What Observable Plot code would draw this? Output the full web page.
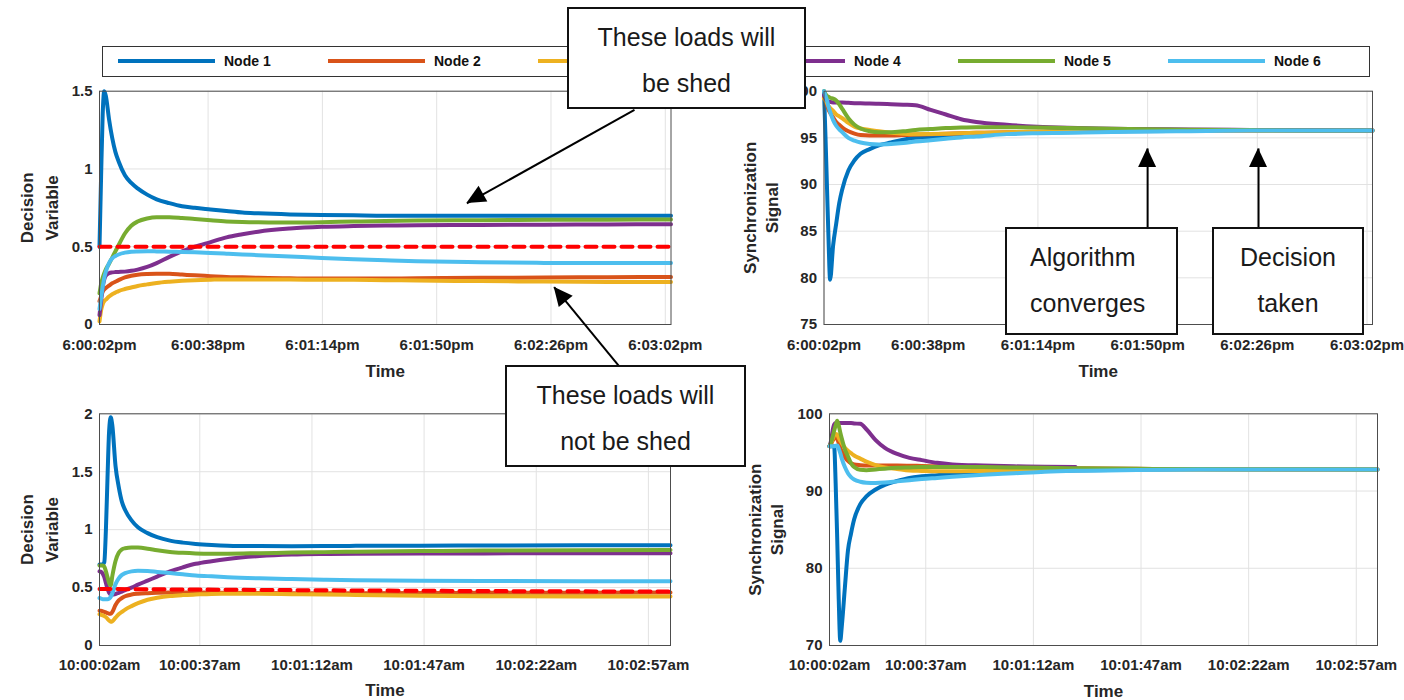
<!DOCTYPE html>
<html><head><meta charset="utf-8">
<script src="https://cdn.jsdelivr.net/npm/d3@7"></script>
<script src="https://cdn.jsdelivr.net/npm/@observablehq/plot@0.6"></script>
<style>
body{margin:0;background:#fff;}
#root{position:relative;width:1404px;height:700px;overflow:hidden;font-family:"Liberation Sans",Arial,sans-serif;background:#fff;}
.panel{position:absolute;}
.legend{position:absolute;left:102px;top:46px;width:1268px;height:31px;box-sizing:border-box;border:1px solid #333;background:#fff;}
.legend .ln{position:absolute;top:12px;width:97px;height:4px;}
.legend .lb{position:absolute;top:0;line-height:29px;font-size:14px;font-weight:bold;color:#111;white-space:nowrap;}
.box{position:absolute;box-sizing:border-box;border:2px solid #111;background:#fff;font-size:25px;color:#1a1a1a;line-height:46px;padding-top:5px;white-space:nowrap;}
</style>
</head><body><div id="root"></div>
<script>
// ---------- data ----------
const nodes = ["Node 1","Node 2","Node 3","Node 4","Node 5","Node 6"];
const nodeColors = ["#0072BD","#D95319","#EDB120","#7E2F8E","#77AC30","#4DBEEE"];

const topTickValues = [0, 34.2, 70.2, 106.2, 142.2, 178.2];
const topTickLabels = ["6:00:02pm","6:00:38pm","6:01:14pm","6:01:50pm","6:02:26pm","6:03:02pm"];
const bottomTickValues = [0, 31.3, 66.3, 101.3, 136.3, 171.3];
const bottomTickLabels = ["10:00:02am","10:00:37am","10:01:12am","10:01:47am","10:02:22am","10:02:57am"];

const decTopTicks = [0, 0.5, 1, 1.5];
const syncTopTicks = [75, 80, 85, 90, 95, 100];
const decBotTicks = [0, 0.5, 1, 1.5, 2];
const syncBotTicks = [70, 80, 90, 100];

// seconds after first tick
const tTop = [0, 0.5, 1, 1.5, 2, 3, 4, 5, 6, 8, 10, 12, 15, 18, 22, 26, 30, 35, 40, 45, 50, 60, 70, 80, 90, 100, 120, 140, 160, 180];

const decTop1 = [0.50, 0.95, 1.35, 1.50, 1.47, 1.32, 1.20, 1.11, 1.05, 0.96, 0.91, 0.875, 0.835, 0.805, 0.78, 0.76, 0.75, 0.74, 0.73, 0.72, 0.715, 0.708, 0.704, 0.702, 0.70, 0.70, 0.70, 0.70, 0.70, 0.70];
const decTop2 = [0.15, 0.18, 0.21, 0.225, 0.235, 0.25, 0.265, 0.275, 0.285, 0.303, 0.313, 0.32, 0.325, 0.327, 0.326, 0.321, 0.316, 0.311, 0.306, 0.303, 0.30, 0.297, 0.295, 0.295, 0.296, 0.297, 0.30, 0.302, 0.304, 0.305];
const decTop3 = [0.02, 0.09, 0.13, 0.15, 0.16, 0.18, 0.195, 0.205, 0.215, 0.228, 0.238, 0.248, 0.258, 0.267, 0.275, 0.281, 0.285, 0.288, 0.29, 0.29, 0.29, 0.289, 0.288, 0.287, 0.285, 0.283, 0.279, 0.276, 0.274, 0.273];
const decTop4 = [0.06, 0.15, 0.24, 0.29, 0.315, 0.33, 0.335, 0.337, 0.338, 0.34, 0.345, 0.353, 0.37, 0.395, 0.435, 0.47, 0.50, 0.53, 0.56, 0.58, 0.597, 0.617, 0.628, 0.633, 0.636, 0.638, 0.64, 0.642, 0.643, 0.645];
const decTop5 = [0.20, 0.26, 0.30, 0.33, 0.355, 0.39, 0.43, 0.47, 0.51, 0.585, 0.635, 0.662, 0.682, 0.69, 0.69, 0.685, 0.678, 0.67, 0.663, 0.659, 0.657, 0.656, 0.658, 0.662, 0.665, 0.668, 0.671, 0.673, 0.674, 0.675];
const decTop6 = [0.10, 0.17, 0.24, 0.30, 0.34, 0.395, 0.425, 0.44, 0.45, 0.462, 0.468, 0.47, 0.471, 0.47, 0.468, 0.466, 0.464, 0.46, 0.455, 0.45, 0.446, 0.437, 0.428, 0.42, 0.413, 0.407, 0.40, 0.396, 0.395, 0.395];
const thrTopT = [0, 180];
const thrTopV = [0.5, 0.5];

const syncTop1 = [100, 95, 89.5, 84, 79.8, 83.5, 85.8, 88, 89.5, 91.5, 92.6, 93.3, 93.8, 94.2, 94.5, 94.8, 95.0, 95.1, 95.2, 95.3, 95.35, 95.45, 95.55, 95.6, 95.65, 95.7, 95.75, 95.8, 95.8, 95.8];
const syncTop2 = [99.3, 99.0, 98.5, 98.0, 97.7, 97.2, 96.7, 96.4, 96.1, 95.7, 95.45, 95.3, 95.25, 95.25, 95.25, 95.3, 95.35, 95.4, 95.45, 95.5, 95.55, 95.6, 95.65, 95.7, 95.72, 95.75, 95.78, 95.8, 95.8, 95.8];
const syncTop3 = [99.2, 99.0, 98.7, 98.4, 98.2, 97.9, 97.5, 97.3, 97.1, 96.6, 96.2, 96.0, 95.85, 95.7, 95.55, 95.45, 95.4, 95.42, 95.45, 95.5, 95.55, 95.6, 95.65, 95.7, 95.72, 95.75, 95.78, 95.8, 95.8, 95.8];
const syncTop4 = [99.6, 99.2, 99.0, 98.9, 98.85, 98.8, 98.8, 98.8, 98.78, 98.75, 98.72, 98.7, 98.68, 98.65, 98.6, 98.55, 98.5, 98.0, 97.5, 97.0, 96.7, 96.4, 96.2, 96.08, 96.0, 95.95, 95.9, 95.85, 95.82, 95.8];
const syncTop5 = [100, 99.7, 99.5, 99.4, 99.3, 99.2, 99.0, 98.6, 98.1, 97.1, 96.4, 96.0, 95.7, 95.6, 95.6, 95.7, 95.85, 95.95, 96.05, 96.1, 96.15, 96.15, 96.1, 96.05, 96.0, 95.95, 95.88, 95.83, 95.8, 95.8];
const syncTop6 = [100, 99.5, 99.0, 98.3, 97.8, 96.9, 96.3, 95.9, 95.6, 95.0, 94.7, 94.5, 94.35, 94.3, 94.35, 94.45, 94.6, 94.75, 94.9, 95.05, 95.15, 95.4, 95.5, 95.55, 95.6, 95.65, 95.72, 95.78, 95.8, 95.8];

const tBot = [0, 0.5, 1, 1.5, 2, 2.5, 3, 3.5, 4, 5, 6, 7, 8, 10, 12, 15, 18, 22, 26, 30, 35, 40, 50, 60, 70, 80, 100, 120, 150, 178.2];

const decBot1 = [0.70, 0.70, 0.70, 0.72, 1.0, 1.45, 1.85, 1.97, 1.9, 1.55, 1.37, 1.24, 1.17, 1.08, 1.02, 0.97, 0.935, 0.905, 0.888, 0.877, 0.868, 0.862, 0.858, 0.857, 0.858, 0.86, 0.862, 0.863, 0.865, 0.865];
const decBot2 = [0.30, 0.30, 0.295, 0.29, 0.285, 0.28, 0.275, 0.275, 0.29, 0.35, 0.39, 0.41, 0.425, 0.44, 0.447, 0.452, 0.455, 0.457, 0.457, 0.457, 0.456, 0.455, 0.453, 0.452, 0.452, 0.452, 0.453, 0.455, 0.456, 0.457];
const decBot3 = [0.27, 0.265, 0.26, 0.255, 0.245, 0.23, 0.215, 0.205, 0.21, 0.24, 0.27, 0.29, 0.31, 0.34, 0.365, 0.395, 0.412, 0.427, 0.435, 0.44, 0.445, 0.446, 0.446, 0.443, 0.44, 0.436, 0.43, 0.426, 0.423, 0.422];
const decBot4 = [0.64, 0.635, 0.62, 0.59, 0.54, 0.49, 0.455, 0.44, 0.44, 0.445, 0.455, 0.465, 0.478, 0.50, 0.525, 0.56, 0.595, 0.64, 0.675, 0.705, 0.728, 0.747, 0.772, 0.785, 0.79, 0.792, 0.794, 0.795, 0.796, 0.796];
const decBot5 = [0.69, 0.69, 0.69, 0.68, 0.64, 0.59, 0.54, 0.52, 0.60, 0.73, 0.80, 0.83, 0.84, 0.847, 0.845, 0.835, 0.822, 0.808, 0.80, 0.795, 0.793, 0.793, 0.797, 0.802, 0.806, 0.81, 0.815, 0.82, 0.823, 0.825];
const decBot6 = [0.41, 0.405, 0.40, 0.40, 0.40, 0.40, 0.405, 0.42, 0.45, 0.53, 0.58, 0.61, 0.625, 0.64, 0.645, 0.643, 0.635, 0.625, 0.615, 0.605, 0.597, 0.59, 0.58, 0.573, 0.567, 0.563, 0.558, 0.556, 0.555, 0.555];
const thrBotT = [0, 60, 120, 178.2];
const thrBotV = [0.488, 0.478, 0.47, 0.465];

const syncBot1 = [95.8, 95.8, 95.8, 95.8, 91, 84, 76, 70.6, 72.5, 77.5, 82.3, 84.5, 86.3, 88.3, 89.3, 90.2, 90.8, 91.3, 91.7, 91.9, 92.05, 92.2, 92.35, 92.5, 92.6, 92.65, 92.75, 92.8, 92.8, 92.8];
const syncBot2 = [95.8, 96.1, 96.5, 96.8, 97.0, 96.8, 96.2, 95.6, 95.1, 94.4, 93.9, 93.6, 93.45, 93.35, 93.3, 93.3, 93.3, 93.3, 93.28, 93.25, 93.2, 93.15, 93.1, 93.05, 93.0, 92.95, 92.88, 92.84, 92.8, 92.8];
const syncBot3 = [95.8, 96.2, 96.7, 97.2, 97.4, 97.3, 96.9, 96.5, 96.2, 95.6, 95.2, 94.9, 94.6, 94.2, 93.8, 93.35, 93.05, 92.85, 92.65, 92.6, 92.55, 92.55, 92.6, 92.65, 92.7, 92.75, 92.78, 92.8, 92.8, 92.8];
const syncBot4 = [95.8, 96.5, 97.8, 98.6, 98.8, 98.8, 98.8, 98.8, 98.8, 98.8, 98.8, 98.8, 98.75, 98.7, 98.0, 96.6, 95.6, 94.8, 94.3, 94.0, 93.65, 93.45, 93.3, 93.2, 93.15, 93.1, null, null, null, null];
const syncBot5 = [95.8, 96.3, 97.0, 97.8, 98.5, 99.1, 98.5, 97.6, 96.8, 95.4, 94.5, 93.6, 93.1, 92.75, 92.7, 92.8, 92.9, 93.0, 93.05, 93.1, 93.12, 93.12, 93.1, 93.05, 93.0, 92.95, 92.88, 92.85, 92.82, 92.8];
const syncBot6 = [95.8, 95.8, 95.8, 95.8, 95.85, 95.9, 95.5, 94.9, 94.2, 93.1, 92.3, 91.8, 91.5, 91.2, 91.08, 91.05, 91.1, 91.25, 91.4, 91.55, 91.7, 91.85, 92.1, 92.3, 92.5, 92.62, 92.72, 92.78, 92.8, 92.8];

// annotation arrows (data coordinates of each panel)
const arrowsTopLeft = [
  {x1: 168.5, y1: 1.38, x2: 115.7, y2: 0.778},
  {x1: 163.5, y1: -0.264, x2: 143.2, y2: 0.24}
];
const arrowsTopRight = [
  {x1: 106.2, y1: 85.4, x2: 106.2, y2: 93.86},
  {x1: 142.6, y1: 85.4, x2: 142.6, y2: 93.86}
];

// ---------- helpers ----------
function toRows(t, arrays) {
  const rows = [];
  arrays.forEach((arr, k) => arr.forEach((v, i) => rows.push({t: t[i], v, node: nodes[k]})));
  return rows;
}
function zipRows(t, v) { return t.map((d, i) => ({t: d, v: v[i]})); }

function scaleFn(plot, name) {
  const s = plot.scale(name);
  if (s && typeof s.apply === "function") return v => s.apply(v);
  return d3.scaleLinear().domain(s.domain).range(s.range);
}

function addHeads(plot, arrows) {
  const sx = scaleFn(plot, "x"), sy = scaleFn(plot, "y");
  const svg = d3.select(plot);
  for (const a of arrows) {
    const xs = sx(a.x1), ys = sy(a.y1), xt = sx(a.x2), yt = sy(a.y2);
    const dx = xt - xs, dy = yt - ys, len = Math.hypot(dx, dy);
    const ux = dx / len, uy = dy / len, L = 19, W = 9;
    const bx = xt - ux * L, by = yt - uy * L;
    svg.append("polygon")
      .attr("points", [[xt, yt], [bx - uy * W, by + ux * W], [bx + uy * W, by - ux * W]].map(p => p.join(",")).join(" "))
      .attr("fill", "#000");
  }
}

const root = document.getElementById("root");

function panel(o) {
  const marks = [
    Plot.ruleX(o.xTicks, {stroke: "#e2e2e2", strokeWidth: 1}),
    Plot.ruleY(o.yTicks, {stroke: "#e2e2e2", strokeWidth: 1}),
    Plot.line(o.rows, {x: "t", y: "v", z: "node", stroke: "node", strokeWidth: 4, curve: "monotone-x"})
  ];
  if (o.thr) marks.push(Plot.line(o.thr, {x: "t", y: "v", stroke: "#ff0000", strokeWidth: 4, strokeDasharray: "11,7"}));
  marks.push(
    Plot.frame({stroke: "#4d4d4d", strokeWidth: 1}),
    Plot.text([o.ylabel], {frameAnchor: "left", textAnchor: "middle", dx: o.yDx, rotate: -90, lineHeight: o.yLH, fontSize: 17, fontWeight: "bold"}),
    Plot.text(["Time"], {frameAnchor: "bottom", dy: o.timeDy, fontSize: 17, fontWeight: "bold"})
  );
  if (o.arrows) marks.push(Plot.link(o.arrows, {x1: "x1", y1: "y1", x2: "x2", y2: "y2", stroke: "#000", strokeWidth: 2}));
  const plot = Plot.plot({
    width: o.width, height: o.height,
    marginLeft: o.ml, marginRight: o.mr, marginTop: o.mt, marginBottom: o.mb,
    style: {fontFamily: '"Liberation Sans", Arial, sans-serif', fontSize: "15px", fontWeight: "bold", color: "#262626", background: "transparent", overflow: "visible"},
    x: {domain: o.xDomain, ticks: o.xTicks, tickFormat: d => o.xLabels[o.xTicks.indexOf(d)], tickSize: 0, tickPadding: o.tickPad, label: null},
    y: {domain: o.yDomain, ticks: o.yTicks, tickFormat: d => String(d), tickSize: 0, tickPadding: 7, label: null},
    color: {domain: nodes, range: nodeColors},
    marks
  });
  if (o.arrows) addHeads(plot, o.arrows);
  const wrap = document.createElement("div");
  wrap.className = "panel";
  wrap.style.left = o.left + "px";
  wrap.style.top = o.top + "px";
  wrap.appendChild(plot);
  root.appendChild(wrap);
}

// ---------- panels ----------
panel({left: 0, top: 80, width: 700, height: 310, ml: 99, mr: 29.5, mt: 10.7, mb: 66,
  xDomain: [0, 180], xTicks: topTickValues, xLabels: topTickLabels,
  yDomain: [0, 1.5], yTicks: decTopTicks,
  rows: toRows(tTop, [decTop1, decTop2, decTop3, decTop4, decTop5, decTop6]),
  thr: zipRows(thrTopT, thrTopV),
  ylabel: "Decision\nVariable", yDx: -62, yLH: 1.45, timeDy: 52, tickPad: 15,
  arrows: arrowsTopLeft});

panel({left: 700, top: 80, width: 704, height: 310, ml: 123.5, mr: 32, mt: 10.7, mb: 66,
  xDomain: [0, 180], xTicks: topTickValues, xLabels: topTickLabels,
  yDomain: [75, 100], yTicks: syncTopTicks,
  rows: toRows(tTop, [syncTop1, syncTop2, syncTop3, syncTop4, syncTop5, syncTop6]),
  ylabel: "Synchronization\nSignal", yDx: -64.5, yLH: 1.3, timeDy: 52, tickPad: 15,
  arrows: arrowsTopRight});

panel({left: 0, top: 395, width: 700, height: 305, ml: 99, mr: 30, mt: 18.3, mb: 55,
  xDomain: [0, 178.2], xTicks: bottomTickValues, xLabels: bottomTickLabels,
  yDomain: [0, 2], yTicks: decBotTicks,
  rows: toRows(tBot, [decBot1, decBot2, decBot3, decBot4, decBot5, decBot6]),
  thr: zipRows(thrBotT, thrBotV),
  ylabel: "Decision\nVariable", yDx: -62, yLH: 1.45, timeDy: 50, tickPad: 14});

panel({left: 700, top: 395, width: 704, height: 305, ml: 129, mr: 27, mt: 18.3, mb: 55,
  xDomain: [0, 178.2], xTicks: bottomTickValues, xLabels: bottomTickLabels,
  yDomain: [70, 100], yTicks: syncBotTicks,
  rows: toRows(tBot, [syncBot1, syncBot2, syncBot3, syncBot4, syncBot5, syncBot6]),
  ylabel: "Synchronization\nSignal", yDx: -65, yLH: 1.3, timeDy: 51, tickPad: 14});

// ---------- legend ----------
const legend = document.createElement("div");
legend.className = "legend";
nodes.forEach((n, i) => {
  const ln = document.createElement("div");
  ln.className = "ln";
  ln.style.left = (15 + i * 210) + "px";
  ln.style.background = nodeColors[i];
  legend.appendChild(ln);
  const lb = document.createElement("div");
  lb.className = "lb";
  lb.style.left = (15 + i * 210 + 106) + "px";
  lb.textContent = n;
  legend.appendChild(lb);
});
root.appendChild(legend);

// ---------- annotation boxes ----------
const boxes = [
  {left: 567, top: 7, width: 239, height: 102, lines: ["These loads will", "be shed"], align: "center"},
  {left: 505, top: 365, width: 241, height: 102, lines: ["These loads will", "not be shed"], align: "center"},
  {left: 1005, top: 227, width: 173, height: 108, lines: ["Algorithm", "converges"], align: "left"},
  {left: 1212, top: 227, width: 152, height: 108, lines: ["Decision", "taken"], align: "center"}
];
boxes.forEach(b => {
  const d = document.createElement("div");
  d.className = "box";
  Object.assign(d.style, {left: b.left + "px", top: b.top + "px", width: b.width + "px", height: b.height + "px", textAlign: b.align});
  if (b.align === "left") d.style.paddingLeft = "23px";
  b.lines.forEach(l => { const s = document.createElement("div"); s.textContent = l; d.appendChild(s); });
  root.appendChild(d);
});
</script>
</body></html>
